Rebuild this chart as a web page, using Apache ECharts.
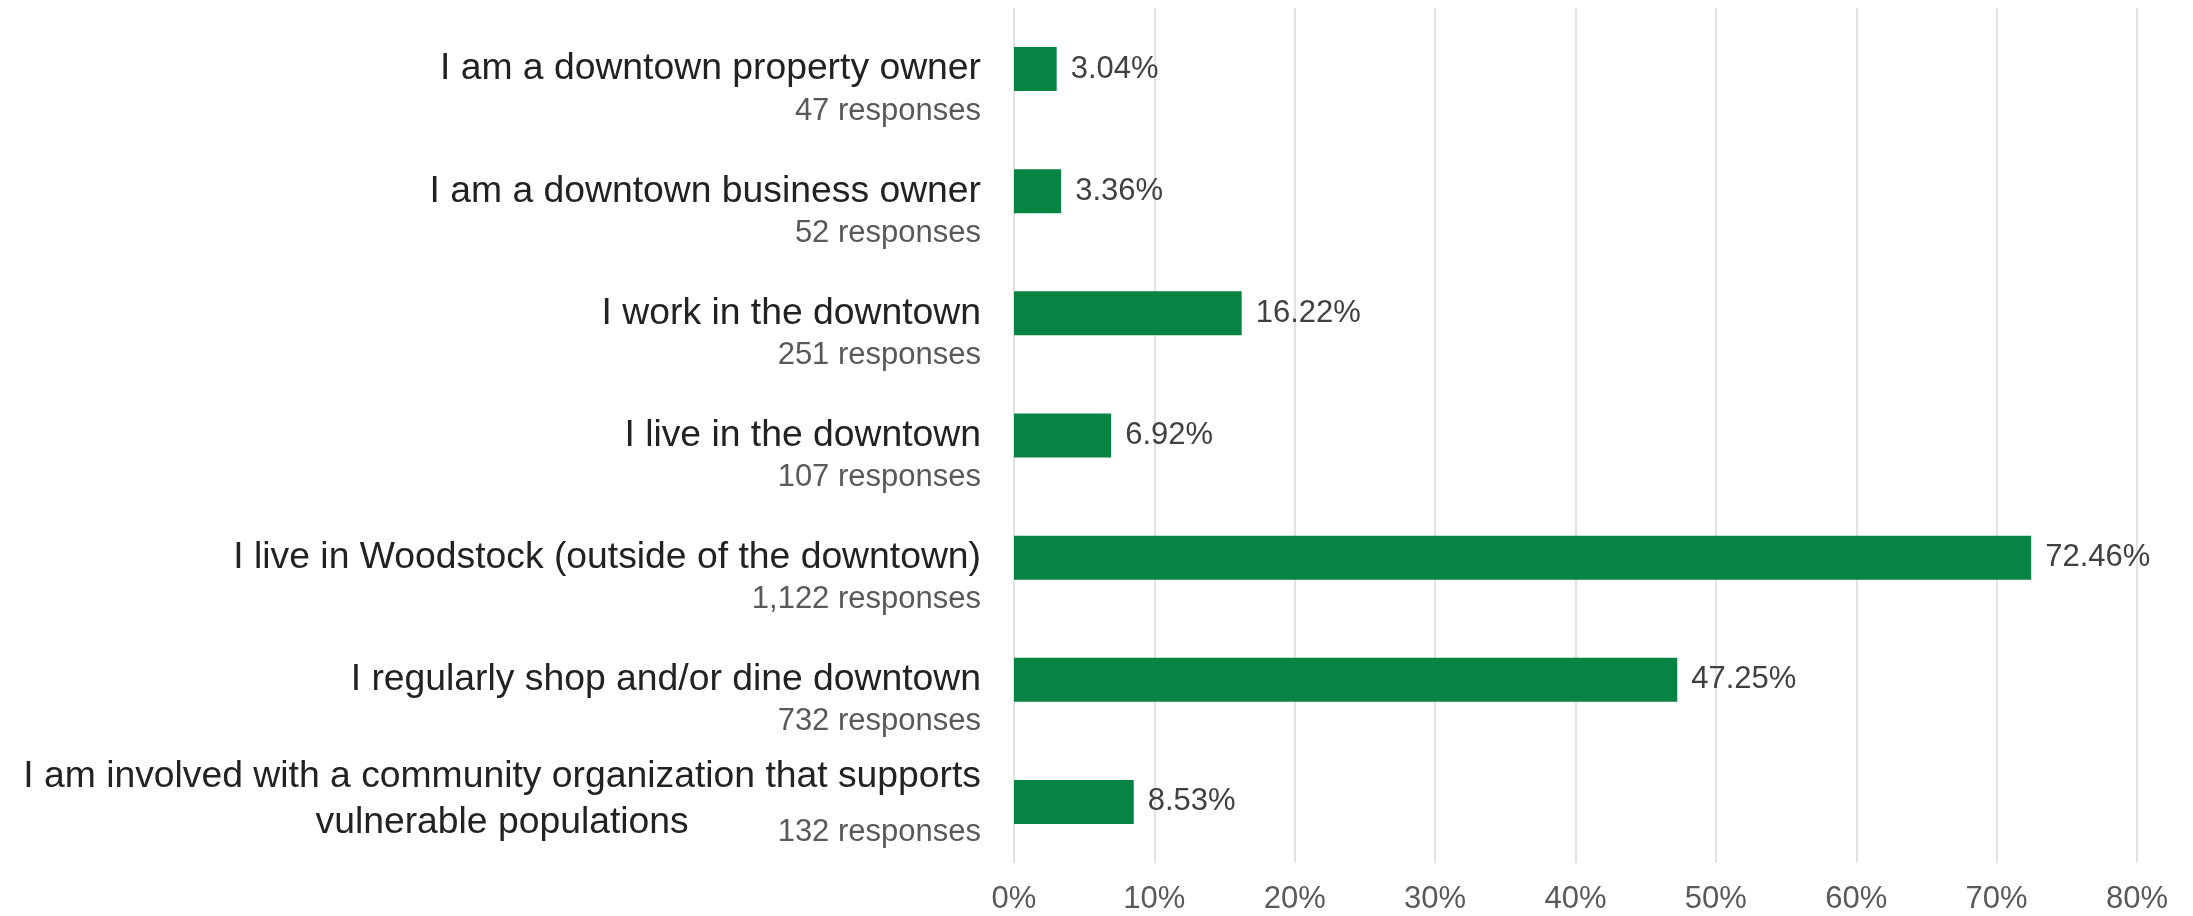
<!DOCTYPE html>
<html>
<head>
  <meta charset="utf-8">
  <title>Downtown survey respondents</title>
  <style>
    html, body { margin: 0; padding: 0; background: #fff; }
    #main { width: 2193px; height: 916px; }
  </style>
</head>
<body>
  <div id="main"></div>
  <script src="https://cdn.jsdelivr.net/npm/echarts@6/dist/echarts.min.js"></script>
  <script>
  // categories, response counts and percentages, top to bottom
  const categories = [
    'I am a downtown property owner',
    'I am a downtown business owner',
    'I work in the downtown',
    'I live in the downtown',
    'I live in Woodstock (outside of the downtown)',
    'I regularly shop and/or dine downtown',
    'I am involved with a community organization that supports\nvulnerable populations'
  ];
  const responses = ['47', '52', '251', '107', '1,122', '732', '132'];
  const percents = [3.04, 3.36, 16.22, 6.92, 72.46, 47.25, 8.53];

  const FONT = '"Liberation Sans", Arial, sans-serif';

  (function() {
    const chart = echarts.init(document.getElementById('main'));

    // label text: category line centred on the bar, response count underneath
    function catLabel(value) {
      const i = categories.indexOf(value);
      const parts = value.split('\n');
      const resp = responses[i] + ' responses';
      if (parts.length > 1) {
        // wrapped label: second line centred, count pushed to the right edge
        return '{t|' + parts[0] + '}\n{sp|' + resp + '}{v|' + parts[1] + '}{r2|' + resp + '}';
      }
      return '{e| }\n{t|' + value + '}\n{r|' + resp + '}';
    }

    const option = {
      animation: false,
      textStyle: { fontFamily: FONT },
      grid: {
        left: 1014,
        right: 56,
        top: 8,
        bottom: 53,
        outerBoundsMode: 'none'
      },
      xAxis: {
        type: 'value',
        min: 0,
        max: 80,
        interval: 10,
        axisLine: { show: false },
        axisTick: { show: false },
        splitLine: { lineStyle: { color: '#d9d9d9', width: 1.5 } },
        axisLabel: {
          formatter: '{value}%',
          color: '#595959',
          fontSize: 31,
          fontFamily: FONT,
          margin: 21
        }
      },
      yAxis: {
        type: 'category',
        inverse: true,
        data: categories,
        axisLine: { show: false },
        axisTick: { show: false },
        axisLabel: {
          margin: 33,
          align: 'right',
          fontFamily: FONT,
          formatter: catLabel,
          rich: {
            e: { fontSize: 31, lineHeight: 42 },
            t: { fontSize: 37.3, lineHeight: 42, color: '#222222', fontFamily: FONT },
            r: { fontSize: 31, lineHeight: 42, color: '#595959', fontFamily: FONT, align: 'right' },
            v: { fontSize: 37.3, lineHeight: 50, color: '#222222', fontFamily: FONT, align: 'center' },
            r2: { fontSize: 31, lineHeight: 50, color: '#595959', fontFamily: FONT, align: 'right', verticalAlign: 'bottom' },
            sp: { fontSize: 31, lineHeight: 50, color: 'transparent', fontFamily: FONT, align: 'left' }
          }
        }
      },
      series: [{
        type: 'bar',
        data: percents,
        barWidth: 44,
        itemStyle: { color: '#078444' },
        label: {
          show: true,
          position: 'right',
          distance: 14,
          color: '#404040',
          fontSize: 31,
          fontFamily: FONT,
          formatter: p => p.value.toFixed(2) + '%'
        }
      }]
    };

    chart.setOption(option);
  })();
  </script>
</body>
</html>
